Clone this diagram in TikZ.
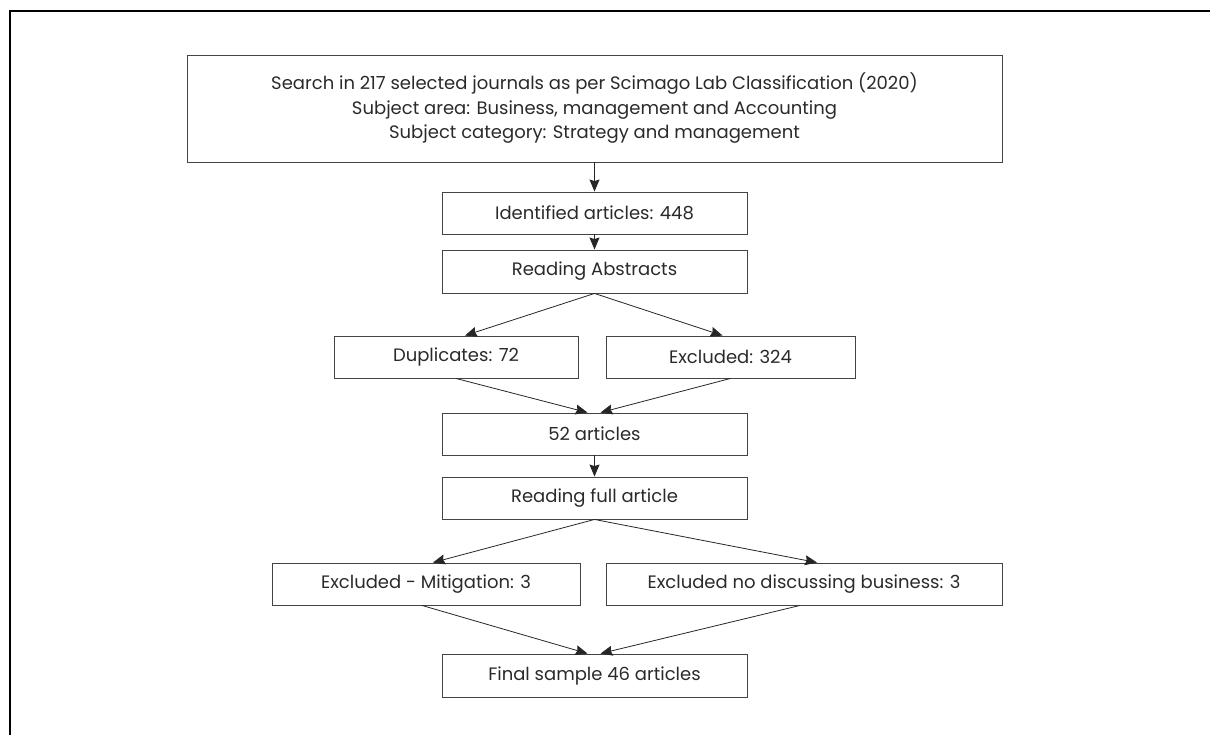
\documentclass[tikz,border=0pt]{standalone}
\usepackage{fontspec}
\setmainfont{Poppins}
\usetikzlibrary{arrows.meta}
\definecolor{boxline}{HTML}{444444}
\definecolor{txt}{HTML}{2A2A2A}
\tikzset{
  box/.style={draw=boxline, line width=0.9pt, inner sep=0pt, align=center, text=txt, font=\fontsize{18}{24.5}\selectfont},
  conn/.style={draw=black!85, line width=0.8pt, -{Stealth[length=12pt,width=10pt,inset=1.5pt]}},
}
\begin{document}
\begin{tikzpicture}[x=1pt,y=-1pt]
\useasboundingbox (0,0) rectangle (1210,735);
\draw[line width=1.3pt] (1210,11) -- (10,11) -- (10,735);
\node[box, minimum width=815pt, minimum height=107pt] (top) at (594.5,108.5)
  {Search in 217 selected journals as per Scimago Lab Classification (2020)\\Subject area: Business, management and Accounting\\Subject category: Strategy and management};
\node[box, minimum width=305pt, minimum height=42pt] (id) at (594.5,213) {Identified articles: 448};
\node[box, minimum width=305pt, minimum height=43pt] (ra) at (594.5,271.5) {Reading Abstracts};
\node[box, minimum width=244pt, minimum height=42pt] (dup) at (456,357) {Duplicates: 72};
\node[box, minimum width=249pt, minimum height=42pt] (exc) at (730.5,357) {Excluded: 324};
\node[box, minimum width=305pt, minimum height=42pt] (n52) at (594.5,434) {52 articles};
\node[box, minimum width=305pt, minimum height=42pt] (rf) at (594.5,498) {Reading full article};
\node[box, minimum width=308pt, minimum height=42pt] (mit) at (426,584) {Excluded - Mitigation: 3};
\node[box, minimum width=396pt, minimum height=42pt] (nod) at (804,584) {Excluded no discussing business: 3};
\node[box, minimum width=305pt, minimum height=43pt] (fin) at (594.5,675.5) {Final sample 46 articles};
\draw[conn] (top.south) -- (id.north);
\draw[conn] (id.south) -- (ra.north);
\draw[conn] (ra.south) -- ([xshift=9pt]dup.north);
\draw[conn] (ra.south) -- ([xshift=-8pt]exc.north);
\draw[conn] (dup.south) -- ([xshift=-7pt]n52.north);
\draw[conn] (exc.south) -- ([xshift=6pt]n52.north);
\draw[conn] (n52.south) -- (rf.north);
\draw[conn] (rf.south) -- ([xshift=7pt]mit.north);
\draw[conn] (rf.south) -- ([xshift=13pt]nod.north);
\draw[conn] ([xshift=-4pt]mit.south) -- ([xshift=-7pt]fin.north);
\draw[conn] ([xshift=-4pt]nod.south) -- ([xshift=6pt]fin.north);
\end{tikzpicture}
\end{document}
